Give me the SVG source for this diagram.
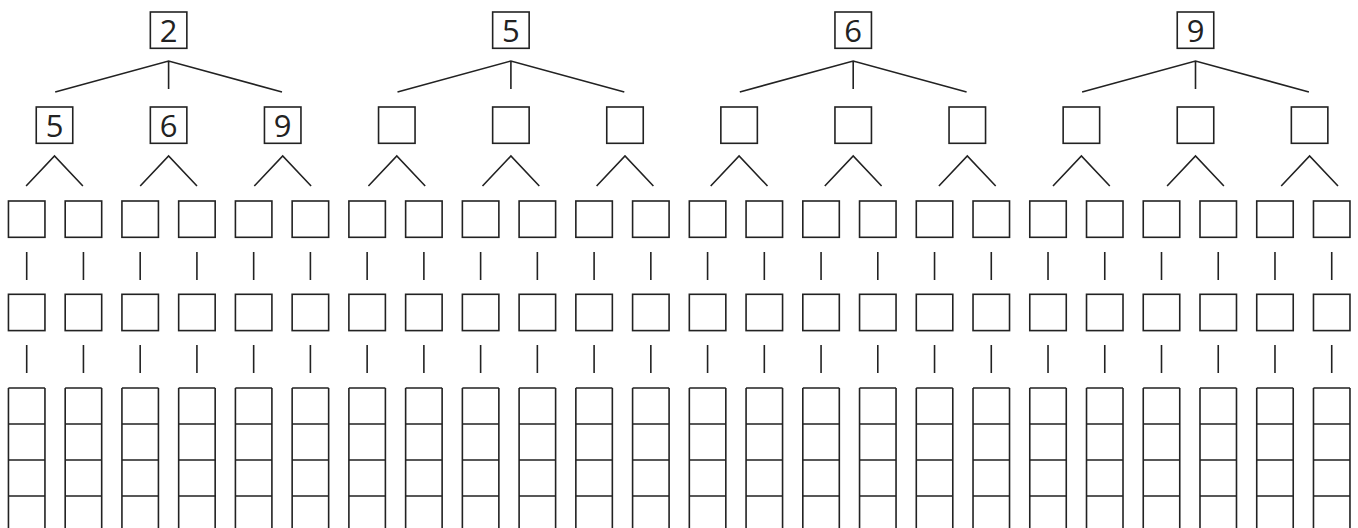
<svg xmlns="http://www.w3.org/2000/svg" xmlns:xlink="http://www.w3.org/1999/xlink" width="1358" height="528" viewBox="0 0 1358 528">
<style>
.s{fill:none;stroke:#222;stroke-width:1.6}
.t{font-family:"Open Sans","DejaVu Sans",sans-serif;font-size:31px;fill:#222;text-anchor:middle}
</style>
<defs>
<rect id="b" class="s" width="36.5" height="36.3"/>
<path id="lad" class="s" d="M0,0H36.5M0,36H36.5M0,72H36.5M0,108H36.5M0,0V145M36.5,0V145"/>
<path id="tri" class="s" d="M-28.4,30L0,0L28.4,30"/>
<path id="v" class="s" d="M0,0V28"/>
<path id="fork" class="s" d="M-113.4,31L0,0L113.4,31M0,0V28"/>
</defs>
<rect width="1358" height="528" fill="#fff"/>
<g id="connectors">
<use href="#fork" x="168.6" y="61"/><use href="#fork" x="510.9" y="61"/><use href="#fork" x="853.2" y="61"/><use href="#fork" x="1195.5" y="61"/>
<use href="#tri" x="54.5" y="156"/><use href="#tri" x="168.6" y="156"/><use href="#tri" x="282.7" y="156"/><use href="#tri" x="396.8" y="156"/><use href="#tri" x="510.9" y="156"/><use href="#tri" x="625" y="156"/><use href="#tri" x="739.1" y="156"/><use href="#tri" x="853.2" y="156"/><use href="#tri" x="967.3" y="156"/><use href="#tri" x="1081.4" y="156"/><use href="#tri" x="1195.5" y="156"/><use href="#tri" x="1309.6" y="156"/>
<use href="#v" x="26.7" y="252"/><use href="#v" x="83.44" y="252"/><use href="#v" x="140.18" y="252"/><use href="#v" x="196.92" y="252"/><use href="#v" x="253.66" y="252"/><use href="#v" x="310.4" y="252"/><use href="#v" x="367.14" y="252"/><use href="#v" x="423.88" y="252"/><use href="#v" x="480.62" y="252"/><use href="#v" x="537.36" y="252"/><use href="#v" x="594.1" y="252"/><use href="#v" x="650.84" y="252"/><use href="#v" x="707.58" y="252"/><use href="#v" x="764.32" y="252"/><use href="#v" x="821.06" y="252"/><use href="#v" x="877.8" y="252"/><use href="#v" x="934.54" y="252"/><use href="#v" x="991.28" y="252"/><use href="#v" x="1048.02" y="252"/><use href="#v" x="1104.76" y="252"/><use href="#v" x="1161.5" y="252"/><use href="#v" x="1218.24" y="252"/><use href="#v" x="1274.98" y="252"/><use href="#v" x="1331.72" y="252"/>
<use href="#v" x="26.7" y="345"/><use href="#v" x="83.44" y="345"/><use href="#v" x="140.18" y="345"/><use href="#v" x="196.92" y="345"/><use href="#v" x="253.66" y="345"/><use href="#v" x="310.4" y="345"/><use href="#v" x="367.14" y="345"/><use href="#v" x="423.88" y="345"/><use href="#v" x="480.62" y="345"/><use href="#v" x="537.36" y="345"/><use href="#v" x="594.1" y="345"/><use href="#v" x="650.84" y="345"/><use href="#v" x="707.58" y="345"/><use href="#v" x="764.32" y="345"/><use href="#v" x="821.06" y="345"/><use href="#v" x="877.8" y="345"/><use href="#v" x="934.54" y="345"/><use href="#v" x="991.28" y="345"/><use href="#v" x="1048.02" y="345"/><use href="#v" x="1104.76" y="345"/><use href="#v" x="1161.5" y="345"/><use href="#v" x="1218.24" y="345"/><use href="#v" x="1274.98" y="345"/><use href="#v" x="1331.72" y="345"/>
</g>
<g id="top-2"><use href="#b" x="150.35" y="12"/><text class="t" x="168.6" y="42.3">2</text></g>
<g id="top-5"><use href="#b" x="492.65" y="12"/><text class="t" x="510.9" y="42.3">5</text></g>
<g id="top-6"><use href="#b" x="834.95" y="12"/><text class="t" x="853.2" y="42.3">6</text></g>
<g id="top-9"><use href="#b" x="1177.25" y="12"/><text class="t" x="1195.5" y="42.3">9</text></g>
<g id="l2-0"><use href="#b" x="36.25" y="107"/><text class="t" x="54.5" y="137.3">5</text></g>
<g id="l2-1"><use href="#b" x="150.35" y="107"/><text class="t" x="168.6" y="137.3">6</text></g>
<g id="l2-2"><use href="#b" x="264.45" y="107"/><text class="t" x="282.7" y="137.3">9</text></g>
<g id="l2-3"><use href="#b" x="378.55" y="107"/></g>
<g id="l2-4"><use href="#b" x="492.65" y="107"/></g>
<g id="l2-5"><use href="#b" x="606.75" y="107"/></g>
<g id="l2-6"><use href="#b" x="720.85" y="107"/></g>
<g id="l2-7"><use href="#b" x="834.95" y="107"/></g>
<g id="l2-8"><use href="#b" x="949.05" y="107"/></g>
<g id="l2-9"><use href="#b" x="1063.15" y="107"/></g>
<g id="l2-10"><use href="#b" x="1177.25" y="107"/></g>
<g id="l2-11"><use href="#b" x="1291.35" y="107"/></g>
<g id="l3-0"><use href="#b" x="8.45" y="201"/></g>
<g id="l3-1"><use href="#b" x="65.19" y="201"/></g>
<g id="l3-2"><use href="#b" x="121.93" y="201"/></g>
<g id="l3-3"><use href="#b" x="178.67" y="201"/></g>
<g id="l3-4"><use href="#b" x="235.41" y="201"/></g>
<g id="l3-5"><use href="#b" x="292.15" y="201"/></g>
<g id="l3-6"><use href="#b" x="348.89" y="201"/></g>
<g id="l3-7"><use href="#b" x="405.63" y="201"/></g>
<g id="l3-8"><use href="#b" x="462.37" y="201"/></g>
<g id="l3-9"><use href="#b" x="519.11" y="201"/></g>
<g id="l3-10"><use href="#b" x="575.85" y="201"/></g>
<g id="l3-11"><use href="#b" x="632.59" y="201"/></g>
<g id="l3-12"><use href="#b" x="689.33" y="201"/></g>
<g id="l3-13"><use href="#b" x="746.07" y="201"/></g>
<g id="l3-14"><use href="#b" x="802.81" y="201"/></g>
<g id="l3-15"><use href="#b" x="859.55" y="201"/></g>
<g id="l3-16"><use href="#b" x="916.29" y="201"/></g>
<g id="l3-17"><use href="#b" x="973.03" y="201"/></g>
<g id="l3-18"><use href="#b" x="1029.77" y="201"/></g>
<g id="l3-19"><use href="#b" x="1086.51" y="201"/></g>
<g id="l3-20"><use href="#b" x="1143.25" y="201"/></g>
<g id="l3-21"><use href="#b" x="1199.99" y="201"/></g>
<g id="l3-22"><use href="#b" x="1256.73" y="201"/></g>
<g id="l3-23"><use href="#b" x="1313.47" y="201"/></g>
<g id="l4-0"><use href="#b" x="8.45" y="294.3"/></g>
<g id="l4-1"><use href="#b" x="65.19" y="294.3"/></g>
<g id="l4-2"><use href="#b" x="121.93" y="294.3"/></g>
<g id="l4-3"><use href="#b" x="178.67" y="294.3"/></g>
<g id="l4-4"><use href="#b" x="235.41" y="294.3"/></g>
<g id="l4-5"><use href="#b" x="292.15" y="294.3"/></g>
<g id="l4-6"><use href="#b" x="348.89" y="294.3"/></g>
<g id="l4-7"><use href="#b" x="405.63" y="294.3"/></g>
<g id="l4-8"><use href="#b" x="462.37" y="294.3"/></g>
<g id="l4-9"><use href="#b" x="519.11" y="294.3"/></g>
<g id="l4-10"><use href="#b" x="575.85" y="294.3"/></g>
<g id="l4-11"><use href="#b" x="632.59" y="294.3"/></g>
<g id="l4-12"><use href="#b" x="689.33" y="294.3"/></g>
<g id="l4-13"><use href="#b" x="746.07" y="294.3"/></g>
<g id="l4-14"><use href="#b" x="802.81" y="294.3"/></g>
<g id="l4-15"><use href="#b" x="859.55" y="294.3"/></g>
<g id="l4-16"><use href="#b" x="916.29" y="294.3"/></g>
<g id="l4-17"><use href="#b" x="973.03" y="294.3"/></g>
<g id="l4-18"><use href="#b" x="1029.77" y="294.3"/></g>
<g id="l4-19"><use href="#b" x="1086.51" y="294.3"/></g>
<g id="l4-20"><use href="#b" x="1143.25" y="294.3"/></g>
<g id="l4-21"><use href="#b" x="1199.99" y="294.3"/></g>
<g id="l4-22"><use href="#b" x="1256.73" y="294.3"/></g>
<g id="l4-23"><use href="#b" x="1313.47" y="294.3"/></g>
<g id="l5-0"><use href="#lad" x="8.45" y="388"/></g>
<g id="l5-1"><use href="#lad" x="65.19" y="388"/></g>
<g id="l5-2"><use href="#lad" x="121.93" y="388"/></g>
<g id="l5-3"><use href="#lad" x="178.67" y="388"/></g>
<g id="l5-4"><use href="#lad" x="235.41" y="388"/></g>
<g id="l5-5"><use href="#lad" x="292.15" y="388"/></g>
<g id="l5-6"><use href="#lad" x="348.89" y="388"/></g>
<g id="l5-7"><use href="#lad" x="405.63" y="388"/></g>
<g id="l5-8"><use href="#lad" x="462.37" y="388"/></g>
<g id="l5-9"><use href="#lad" x="519.11" y="388"/></g>
<g id="l5-10"><use href="#lad" x="575.85" y="388"/></g>
<g id="l5-11"><use href="#lad" x="632.59" y="388"/></g>
<g id="l5-12"><use href="#lad" x="689.33" y="388"/></g>
<g id="l5-13"><use href="#lad" x="746.07" y="388"/></g>
<g id="l5-14"><use href="#lad" x="802.81" y="388"/></g>
<g id="l5-15"><use href="#lad" x="859.55" y="388"/></g>
<g id="l5-16"><use href="#lad" x="916.29" y="388"/></g>
<g id="l5-17"><use href="#lad" x="973.03" y="388"/></g>
<g id="l5-18"><use href="#lad" x="1029.77" y="388"/></g>
<g id="l5-19"><use href="#lad" x="1086.51" y="388"/></g>
<g id="l5-20"><use href="#lad" x="1143.25" y="388"/></g>
<g id="l5-21"><use href="#lad" x="1199.99" y="388"/></g>
<g id="l5-22"><use href="#lad" x="1256.73" y="388"/></g>
<g id="l5-23"><use href="#lad" x="1313.47" y="388"/></g>
</svg>
